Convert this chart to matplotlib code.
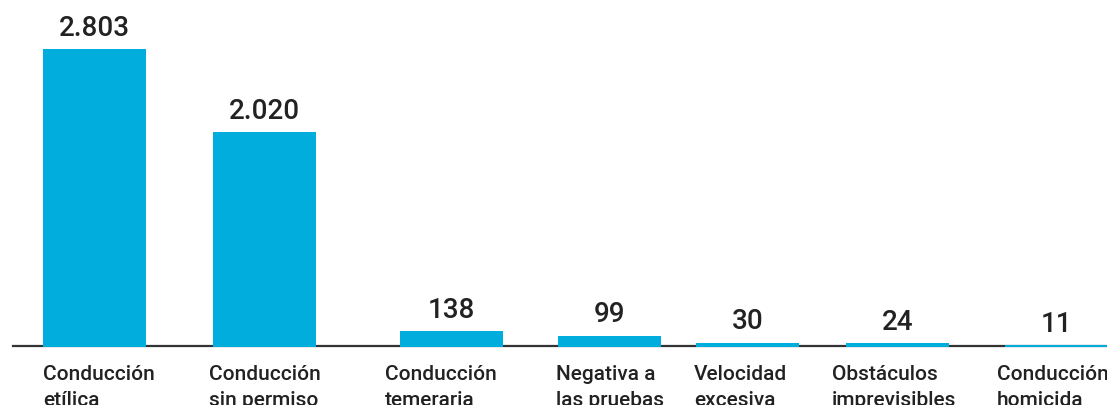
import matplotlib.pyplot as plt

# data
categories = ["Conducción\netílica", "Conducción\nsin permiso", "Conducción\ntemeraria",
              "Negativa a\nlas pruebas", "Velocidad\nexcesiva", "Obstáculos\nimprevisibles",
              "Conducción\nhomicida"]
values = [2803, 2020, 138, 99, 30, 24, 11]
value_labels = ["2.803", "2.020", "138", "99", "30", "24", "11"]

# layout (pixels): left edge of each bar and of each category label
lefts = [43, 213, 400, 558, 696, 846, 1005]
label_lefts = [43, 209, 385, 556, 694, 832, 997]
bar_w = 103
color = "#00ADDC"
text_color = "#222222"

plt.rcParams['font.family'] = ['Roboto', 'DejaVu Sans']

W, H = 1107, 406
fig = plt.figure(figsize=(W / 100, H / 100), dpi=100)
ax = fig.add_axes([0, 59 / H, 1, 297 / H])
ax.set_xlim(0, W)
ax.set_ylim(0, max(values))
ax.axis("off")

ax.plot([13, W], [0, 0], color="#333333", lw=1.6, zorder=2, clip_on=False)
ax.bar(lefts, [v + 12 for v in values], bottom=-12, width=bar_w, align="edge",
       color=color, zorder=3, clip_on=False)

for x, v, lab in zip(lefts, values, value_labels):
    ax.annotate(lab, (x + bar_w / 2, v), xytext=(0, 6), textcoords="offset points",
                ha="center", va="bottom", fontsize=20, fontweight="medium",
                color=text_color, annotation_clip=False)

for lx, cat in zip(label_lefts, categories):
    ax.annotate(cat, (lx, 0), xytext=(0, -13), textcoords="offset points",
                ha="left", va="top", fontsize=15, fontweight="medium",
                color=text_color, linespacing=1.45, annotation_clip=False)

fig.savefig("out.png", dpi=100)
